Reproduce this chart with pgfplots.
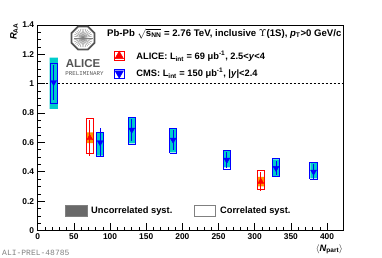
\documentclass[border=0pt]{standalone}
\usepackage{pgfplots}
\pgfplotsset{compat=1.18}
\usepackage{fontspec}
\setmainfont{Liberation Sans}
\newfontfamily\monofont{Liberation Mono}
\newcommand\fs{\fontsize{8.4}{10}\selectfont\bfseries}
\newcommand\ft{\fontsize{9.3}{11}\selectfont\bfseries}
\newcommand\fh{\fontsize{9.6}{11}\selectfont\bfseries}
\definecolor{cmscyan}{rgb}{0,0.8,0.8}
\definecolor{aliorange}{rgb}{1,0.6,0}
\definecolor{logogray}{rgb}{0.33,0.33,0.33}
\begin{document}
\begin{tikzpicture}
\path[use as bounding box] (0pt,0pt) rectangle (382pt,257pt);
\begin{axis}[
  at={(37.7pt,26.5pt)}, anchor=south west,
  scale only axis, width=305.3pt, height=205.5pt,
  xmin=0, xmax=422, ymin=0, ymax=1.4,
  xtick={0,50,100,150,200,250,300,350,400},
  ytick={0,0.2,0.4,0.6,0.8,1,1.2,1.4},
  minor x tick num=4, minor y tick num=3,
  tick pos=left, tick align=inside,
  major tick length=7pt, minor tick length=3.5pt,
  axis line style={line width=0.8pt},
  every tick/.style={black, line width=0.6pt},
  /pgf/number format/assume math mode=true,
  ticklabel style={font=\fs},
  unbounded coords=jump,
  legend image code/.code={\draw[#1] plot coordinates {(0pt,0pt)}; \path (-5pt,-4.5pt) rectangle (5pt,4.5pt);},
  legend cell align=left,
  legend style={draw=none, fill=none, at={(0.25,0.882)}, anchor=north west,
    inner sep=0pt, outer sep=0pt, row sep=3.3pt, font=\ft,
    /tikz/every odd column/.append style={column sep=10pt}},
]
% reference line
\addplot[black, line width=0.6pt, dash pattern=on 2.5pt off 1.5pt, forget plot] coordinates {(0,1) (422,1)};

% CMS uncorrelated syst (filled)
\addplot[draw=none, fill=cmscyan, forget plot] coordinates {
(16.4,0.829) (27.8,0.829) (27.8,1.177) (16.4,1.177) (nan,nan)
(81.8,0.510) (90.8,0.510) (90.8,0.665) (81.8,0.665) (nan,nan)
(125.5,0.593) (134.5,0.593) (134.5,0.768) (125.5,0.768) (nan,nan)
(182.7,0.532) (191.7,0.532) (191.7,0.690) (182.7,0.690) (nan,nan)
(256.9,0.430) (265.9,0.430) (265.9,0.540) (256.9,0.540) (nan,nan)
(324.9,0.372) (333.9,0.372) (333.9,0.485) (324.9,0.485) (nan,nan)
(376.8,0.355) (385.8,0.355) (385.8,0.460) (376.8,0.460)
};
% ALICE uncorrelated syst (filled)
\addplot[draw=none, fill=aliorange, forget plot] coordinates {
(67.5,0.595) (76.5,0.595) (76.5,0.668) (67.5,0.668) (nan,nan)
(303.9,0.300) (312.9,0.300) (312.9,0.365) (303.9,0.365)
};
% CMS correlated syst (open)
\addplot[blue, line width=0.9pt, forget plot] coordinates {
(17.3,0.868) (26.9,0.868) (26.9,1.141) (17.3,1.141) (17.3,0.868) (nan,nan)
(81.3,0.504) (91.3,0.504) (91.3,0.670) (81.3,0.670) (81.3,0.504) (nan,nan)
(125,0.588) (135,0.588) (135,0.773) (125,0.773) (125,0.588) (nan,nan)
(182.2,0.527) (192.2,0.527) (192.2,0.695) (182.2,0.695) (182.2,0.527) (nan,nan)
(256.4,0.413) (266.4,0.413) (266.4,0.545) (256.4,0.545) (256.4,0.413) (nan,nan)
(324.4,0.367) (334.4,0.367) (334.4,0.490) (324.4,0.490) (324.4,0.367) (nan,nan)
(376.3,0.350) (386.3,0.350) (386.3,0.465) (376.3,0.465) (376.3,0.350)
};
% ALICE correlated syst (open)
\addplot[red, line width=0.9pt, forget plot] coordinates {
(67,0.527) (77,0.527) (77,0.761) (67,0.761) (67,0.527) (nan,nan)
(303.4,0.281) (313.4,0.281) (313.4,0.408) (303.4,0.408) (303.4,0.281)
};

% CMS points with stat errors
\addplot[forget plot, only marks, blue, mark=triangle*, mark size=3.4pt, mark options={rotate=180, fill=blue},
  error bars/.cd, y dir=both, y explicit, error mark=none,
  error bar style={line width=1pt, blue}] coordinates {
(22.1,1.01) +- (0,0.12)
(86.3,0.60) +- (0,0.095)
(130.0,0.686) +- (0,0.075)
(187.2,0.618) +- (0,0.07)
(261.4,0.481) +- (0,0.055)
(329.4,0.425) +- (0,0.05)
(381.3,0.40) +- (0,0.05)
};
% ALICE points with stat errors
\addplot[forget plot, only marks, red, mark=triangle*, mark size=3.4pt, mark options={fill=red},
  error bars/.cd, y dir=both, y explicit, error mark=none,
  error bar style={line width=1pt, red}] coordinates {
(72,0.63) +- (0,0.12)
(308.4,0.333) +- (0,0.063)
};

\addlegendimage{only marks, mark=triangle*, red, mark options={fill=red}, mark size=5pt}
\addlegendentry{ALICE: L\textsubscript{int} = 69 μb\textsuperscript{-1}, 2.5<\textit{y}<4}
\addlegendimage{only marks, mark=triangle*, blue, mark options={rotate=180, fill=blue}, mark size=5pt}
\addlegendentry{CMS: L\textsubscript{int} = 150 μb\textsuperscript{-1}, |\textit{y}|<2.4}
\end{axis}

% header
\node[anchor=base west, inner sep=0pt] at (107pt,220.5pt)
  {\fh Pb-Pb $\sqrt{\mbox{\fh s\textsubscript{NN}}}$ = 2.76 TeV, inclusive $\Upsilon$(1S), \textit{p}\textsubscript{T}>0 GeV/c};

% ALICE logo
\begin{scope}[shift={(83pt,219pt)}]
  \foreach \a in {0,12,...,348} \draw[gray, line width=0.35pt] (0pt,0pt) -- (\a:9.5pt);
  \draw[logogray, line width=1.8pt] (22.5:12.5pt) -- (67.5:12.5pt) -- (112.5:12.5pt) -- (157.5:12.5pt)
     -- (202.5:12.5pt) -- (247.5:12.5pt) -- (292.5:12.5pt) -- (337.5:12.5pt) -- cycle;
\end{scope}
\node[anchor=base, inner sep=0pt, logogray] at (83pt,189pt) {\fontsize{11.5}{12}\selectfont\bfseries ALICE};
\node[anchor=base, inner sep=0pt, logogray] at (84.5pt,181.5pt) {\monofont\fontsize{5.8}{6}\selectfont PRELIMINARY};

% syst legend
\filldraw[fill={rgb,255:red,105;green,105;blue,105}, draw=gray, line width=0.6pt] (65pt,40.3pt) rectangle (87.3pt,52pt);
\node[anchor=base west, inner sep=0pt] at (91pt,43.5pt) {\ft Uncorrelated syst.};
\draw[gray, line width=0.9pt, fill=white] (194.3pt,40.3pt) rectangle (215.7pt,52pt);
\node[anchor=base west, inner sep=0pt] at (220pt,43.5pt) {\ft Correlated syst.};

% axis titles
\node[rotate=90, anchor=base east, inner sep=0pt] at (16.5pt,234pt) {\ft\textit{R}\textsubscript{AA}};
\node[anchor=base east, inner sep=0pt] at (343pt,6pt) {\ft$\langle$\textit{N}\textsubscript{part}$\rangle$};

% watermark
\node[anchor=base west, inner sep=0pt, gray] at (2pt,2pt) {\monofont\fontsize{8}{8}\selectfont ALI-PREL-48785};
\end{tikzpicture}
\end{document}
